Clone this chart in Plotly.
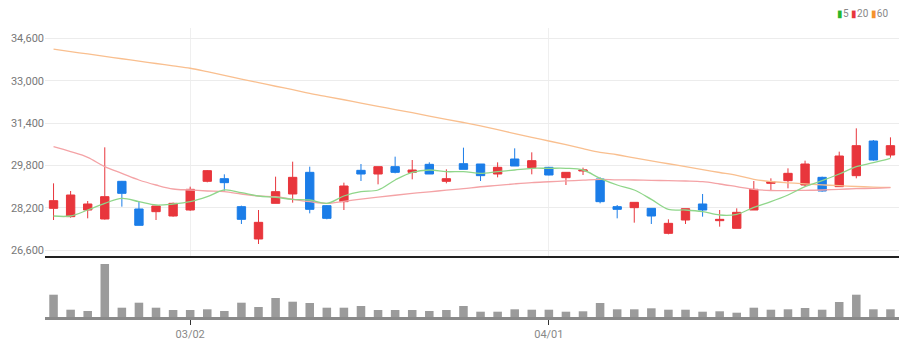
import plotly.graph_objects as go
from plotly.subplots import make_subplots

dates = ["02/17", "02/18", "02/21", "02/22", "02/23", "02/24", "02/25", "02/28",
         "03/02", "03/03", "03/04", "03/07", "03/08", "03/10", "03/11",
         "03/14", "03/15", "03/16", "03/17", "03/18",
         "03/21", "03/22", "03/23", "03/24", "03/25",
         "03/28", "03/29", "03/30", "03/31", "04/01",
         "04/04", "04/05", "04/06", "04/07", "04/08",
         "04/11", "04/12", "04/13", "04/14", "04/15",
         "04/18", "04/19", "04/20", "04/21", "04/22",
         "04/25", "04/26", "04/27", "04/28", "04/29"]

opens = [28175, 27860, 28112, 27772, 29196, 28150, 28049, 27885, 28112, 29196,
         29296, 28238, 27016, 28364, 28717, 29536, 28276, 28427, 29611, 29473,
         29750, 29536, 29838, 29196, 29863, 29851, 29473, 30040, 29712, 29725,
         29334, 29586, 29284, 28238, 28200, 28175, 27230, 27734, 28339, 27709,
         27419, 28112, 29120, 29221, 29057, 29347, 28994, 29410, 30720, 30191]
highs = [29120, 28830, 28452, 30481, 29210, 28427, 28263, 28390, 28994, 29624,
         29460, 28276, 28112, 29372, 29939, 29750, 28301, 29145, 29851, 29750,
         30128, 30002, 29914, 29649, 30468, 29851, 29914, 30443, 30292, 29740,
         29536, 29712, 29347, 28301, 28402, 28175, 27759, 28162, 28717, 28112,
         28175, 29208, 29309, 29687, 29977, 29372, 30317, 31199, 30758, 30859]
lows = [27734, 27822, 27797, 27750, 28238, 27532, 27734, 27860, 28080, 29158,
        28843, 27583, 26827, 28364, 28389, 27986, 27760, 28112, 29208, 29082,
        29498, 29271, 29473, 29120, 29649, 29208, 29347, 29775, 29460, 29420,
        29057, 29435, 28364, 27797, 27633, 27583, 27192, 27583, 27860, 27482,
        27419, 28112, 28843, 28931, 28994, 28805, 28994, 29309, 29977, 30090]
closes = [28465, 28679, 28339, 28616, 28742, 27532, 28263, 28364, 28893, 29599,
          29145, 27759, 27646, 28805, 29347, 28137, 27797, 29019, 29473, 29750,
          29536, 29624, 29473, 29296, 29649, 29410, 29725, 29775, 29977, 29435,
          29536, 29624, 28427, 28137, 28402, 27885, 27608, 28162, 28112, 27759,
          28024, 28893, 29183, 29498, 29851, 28830, 30153, 30544, 30002, 30544]

ma5 = [27885, 27885, 28112, 28364, 28553, 28427, 28301, 28339, 28427, 28616,
       28868, 28767, 28641, 28591, 28515, 28490, 28364, 28641, 28805, 28868,
       29246, 29536, 29624, 29561, 29561, 29498, 29561, 29624, 29687, 29687,
       29687, 29624, 29309, 29057, 28868, 28515, 28137, 28112, 28049, 27923,
       27948, 28213, 28427, 28679, 28994, 29221, 29473, 29750, 29901, 30065]
ma20 = [30506, 30317, 30103, 29750, 29498, 29246, 29057, 28906, 28868, 28830,
        28805, 28717, 28641, 28616, 28515, 28427, 28364, 28440, 28520, 28600,
        28670, 28740, 28800, 28860, 28920, 28990, 29040, 29100, 29150, 29180,
        29210, 29240, 29270, 29250, 29246, 29233, 29221, 29208, 29183, 29095,
        28994, 28893, 28850, 28843, 28855, 28868, 28893, 28918, 28931, 28956]
ma60 = [34190, 34100, 34010, 33920, 33830, 33740, 33650, 33560, 33470, 33340,
        33200, 33060, 32930, 32790, 32660, 32520, 32400, 32280, 32150, 32030,
        31910, 31790, 31660, 31540, 31420, 31290, 31150, 31000, 30860, 30720,
        30580, 30430, 30290, 30200, 30080, 29970, 29860, 29750, 29640, 29530,
        29420, 29270, 29190, 29140, 29100, 29060, 29030, 29000, 28980, 28970]

volumes = [223000, 73000, 60000, 530000, 93000, 143000, 93000, 70000, 70000, 77000,
           60000, 143000, 100000, 190000, 153000, 140000, 93000, 93000, 110000, 70000,
           70000, 70000, 60000, 70000, 110000, 53000, 53000, 77000, 73000, 73000,
           53000, 57000, 140000, 77000, 77000, 87000, 73000, 73000, 53000, 57000,
           43000, 93000, 73000, 77000, 90000, 73000, 150000, 223000, 77000, 77000]

price_ticks = [26600, 28200, 29800, 31400, 33000, 34600]
x_ticks = ["03/02", "04/01"]

UP = "#e8363c"
DOWN = "#1b7de8"
FONT = "Liberation Sans Narrow, Arial Narrow, Roboto, sans-serif"

fig = make_subplots(rows=2, cols=1, shared_xaxes=True, vertical_spacing=0)

fig.add_trace(go.Scatter(x=dates, y=ma60, mode="lines", line=dict(color="#f9bf8f", width=1.3, shape="spline"),
                         showlegend=False, hoverinfo="skip"), row=1, col=1)
fig.add_trace(go.Scatter(x=dates, y=ma20, mode="lines", line=dict(color="#f4a3a6", width=1.3, shape="spline"),
                         showlegend=False, hoverinfo="skip"), row=1, col=1)
fig.add_trace(go.Scatter(x=dates, y=ma5, mode="lines", line=dict(color="#8fd68a", width=1.3, shape="spline"),
                         showlegend=False, hoverinfo="skip"), row=1, col=1)
fig.add_trace(go.Candlestick(x=dates, open=opens, high=highs, low=lows, close=closes,
                             increasing=dict(line=dict(color=UP, width=1), fillcolor=UP),
                             decreasing=dict(line=dict(color=DOWN, width=1), fillcolor=DOWN),
                             showlegend=False), row=1, col=1)
fig.add_trace(go.Bar(x=dates, y=volumes, width=0.5, marker=dict(color="#9b9b9b", line=dict(width=0)),
                     showlegend=False), row=2, col=1)

H_PLOT = 289.0
fig.update_layout(
    width=917, height=356,
    margin=dict(l=45, r=18, t=28, b=39),
    paper_bgcolor="white", plot_bgcolor="white",
    font=dict(family=FONT, size=11, color="#777"),
    showlegend=False,
    bargap=0.5,
    xaxis=dict(type="category", range=[-0.5, 49.5], rangeslider=dict(visible=False),
               tickvals=x_ticks, showticklabels=False, ticks="",
               showgrid=True, gridcolor="#efefef", gridwidth=1,
               showline=True, linecolor="#222", linewidth=2, zeroline=False),
    yaxis=dict(domain=[61 / H_PLOT, 1], range=[26373, 34992], tickvals=price_ticks,
               tickformat=",d", showgrid=True, gridcolor="#ececec", gridwidth=1,
               zeroline=False, showline=False, ticks="", tickfont=dict(size=11, color="#777")),
    xaxis2=dict(type="category", range=[-0.5, 49.5], tickvals=x_ticks, ticktext=x_ticks,
                showgrid=False, showline=True, linecolor="#8a8a8a", linewidth=3,
                ticks="outside", ticklen=5, tickcolor="#333", tickwidth=1,
                tickfont=dict(size=11, color="#888"), zeroline=False),
    yaxis2=dict(domain=[0, 60 / H_PLOT], range=[0, 600000], showgrid=False, showticklabels=False,
                zeroline=False, showline=False, ticks=""),
)

fig.add_annotation(
    xref="paper", yref="paper", x=0.99, y=1 + 14 / H_PLOT, xanchor="right", yanchor="middle",
    showarrow=False, font=dict(size=10, color="#888", family=FONT),
    text=("<span style='color:#2ab62a'>▮</span>5 "
          "<span style='color:#e8363c'>▮</span>20 "
          "<span style='color:#f5922c'>▮</span>60"),
)

fig.write_html("out.html", config={"displayModeBar": False},
               post_script="document.body.style.margin='0';document.body.style.overflow='hidden';")
